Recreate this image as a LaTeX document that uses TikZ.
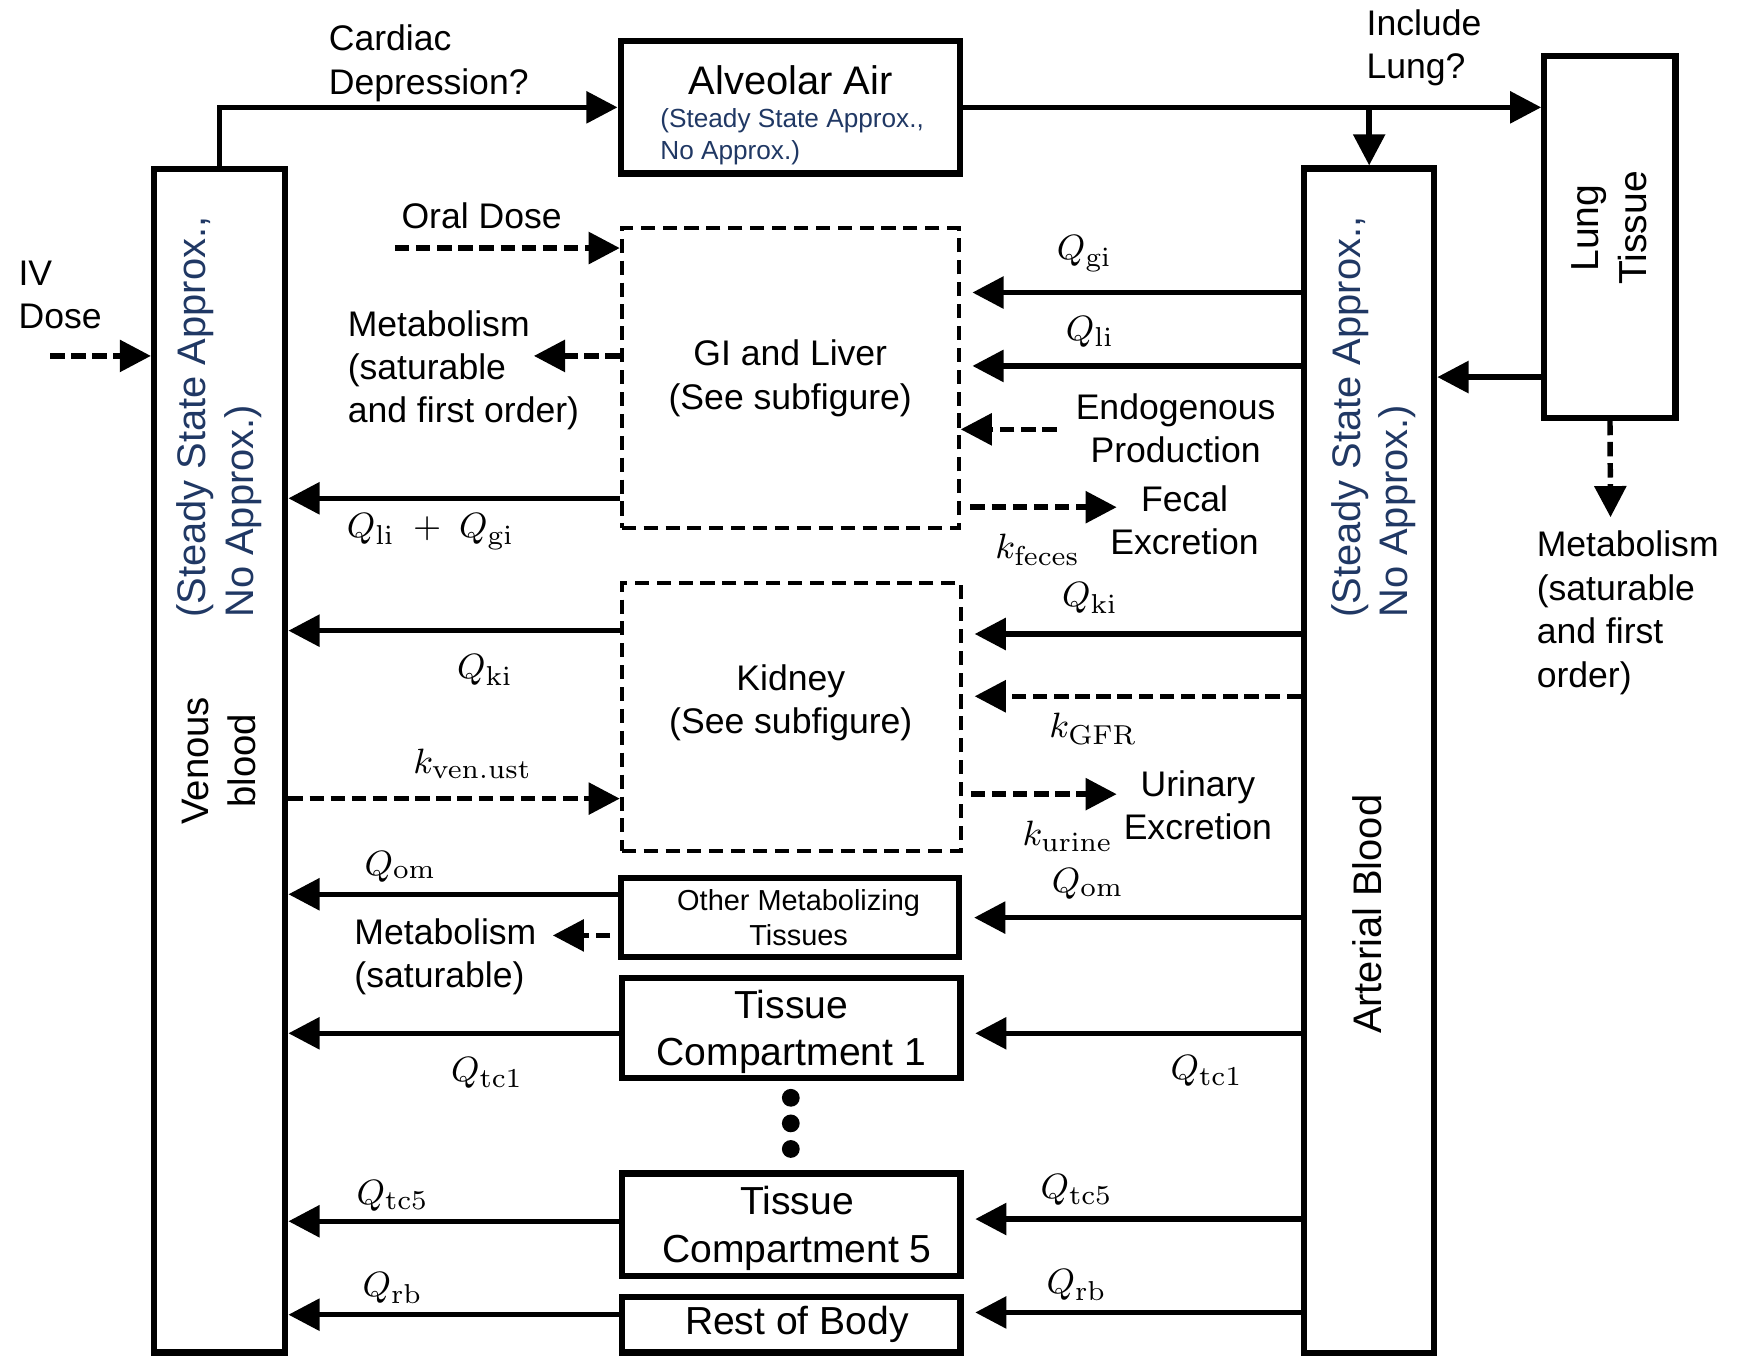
\documentclass[tikz,border=0pt]{standalone}
\usepackage[no-math]{fontspec}
\setmainfont{Liberation Sans}
\usetikzlibrary{arrows.meta}
\definecolor{DarkBlue}{HTML}{203864}
\tikzset{
 box/.style={draw, line width=1.6pt, inner sep=0pt, align=center, font=\fontsize{10}{12.2}\selectfont},
 dashbox/.style={draw, line width=1pt, dash pattern=on 3.6pt off 2pt, inner sep=0pt, align=center, font=\fontsize{9.1}{11.1}\selectfont},
 txt/.style={inner sep=0pt, align=left, font=\fontsize{9.1}{11.1}\selectfont},
 ctxt/.style={txt, align=center},
 side/.style={inner sep=0pt, rotate=90, align=left, text=DarkBlue, font=\fontsize{10.2}{12.2}\selectfont},
 sidetxt/.style={side, align=center, text=black, font=\fontsize{10}{12.2}\selectfont},
 note/.style={inner sep=0pt, align=left, text=DarkBlue, font=\fontsize{6.7}{8.2}\selectfont},
 rate/.style={inner sep=0pt, font=\fontsize{9.4}{11}\selectfont},
 flow/.style={-{Triangle[length=0.28cm,width=0.28cm]}, line width=1.4pt},
 dflow/.style={flow, dash pattern=on 0.13cm off 0.06cm},
 gap/.style={shorten >=3pt}
}
\begin{document}
\begin{tikzpicture}[x=0.1mm,y=-0.1mm]
\useasboundingbox (0,0) rectangle (1568,1219);
\node[box,minimum width=1.18cm,minimum height=10.64cm] (venous) at (197.5,684) {};
\node[box,minimum width=1.17cm,minimum height=10.65cm] (arterial) at (1231,684) {};
\node[box,minimum width=3.05cm,minimum height=1.19cm] (alveolar) at (710.5,96.5) {};
\node[box,minimum width=1.18cm,minimum height=3.25cm] (lung) at (1447.5,213) {};
\node[dashbox,minimum width=3.03cm,minimum height=2.7cm] (gi) at (710.5,340) {GI and Liver\\(See subfigure)};
\node[dashbox,minimum width=3.05cm,minimum height=2.41cm] (kidney) at (711.5,644.5) {};
\node[box,minimum width=3.04cm,minimum height=0.71cm,font=\fontsize{7.4}{9.1}\selectfont] (other) at (710.5,825) {\hspace*{0.15cm}Other Metabolizing\\\hspace*{0.15cm}Tissues};
\node[box,minimum width=3.04cm,minimum height=0.9cm,text depth=0pt] (tc1) at (711.5,924) {Tissue\\Compartment 1};
\node[box,minimum width=3.04cm,minimum height=0.92cm,text depth=0pt] (tc5) at (711.5,1101) {\hspace*{0.1cm}Tissue\\\hspace*{0.1cm}Compartment 5};
\node[box,minimum width=3.04cm,minimum height=0.5cm] (rb) at (711.5,1191) {\hspace*{0.1cm}Rest of Body};

\node[inner sep=0pt,font=\fontsize{10.2}{12.2}\selectfont] (alvtxt) at (711,72) {Alveolar Air};
\node[note,anchor=west] (alvnote) at (593,123) {(Steady State Approx.,\\No Approx.)};
\node[side] (venousnote) at (197,375) {(Steady State Approx.,\\No Approx.)};
\node[sidetxt,font=\fontsize{9.8}{12.2}\selectfont] (venoustxt) at (197,684) {Venous\\blood};
\node[side] (arterialnote) at (1235,375) {(Steady State Approx.,\\No Approx.)};
\node[sidetxt,font=\fontsize{10.2}{12.2}\selectfont] (arterialtxt) at (1229,822) {Arterial Blood};
\node[sidetxt] (lungtxt) at (1447,205) {Lung\\Tissue};
\node[ctxt] (kidneytxt) at (711,632) {Kidney\\(See subfigure)};

\node[txt,anchor=west] (cardiac) at (295,57) {Cardiac\\Depression?};
\node[txt,anchor=west] (include) at (1228,43) {Include\\Lung?};
\node[txt,anchor=west] (ivdose) at (16,265) {IV\\Dose};
\node[txt] (oraldose) at (433,194) {Oral Dose};
\node[txt,anchor=west] (gimetab) at (312,333) {Metabolism\\(saturable\\and first order)};
\node[txt,anchor=west] (lungmetab) at (1381,551) {Metabolism\\(saturable\\and first\\order)};
\node[ctxt] (endo) at (1057,385) {Endogenous\\Production};
\node[ctxt] (fecal) at (1065,468) {Fecal\\Excretion};
\node[ctxt] (urinary) at (1077,724) {Urinary\\Excretion};
\node[txt,anchor=west] (ommetab) at (318,860) {Metabolism\\(saturable)};

\coordinate (ivstart) at (45,320);
\coordinate (oralstart) at (355,223);
\coordinate (gimetabend) at (480,320);
\coordinate (lungmetabend) at (1448,465);
\coordinate (endostart) at (950,386);
\coordinate (fecalend) at (1004,456);
\coordinate (urineend) at (1004,714);
\coordinate (ommetabend) at (497,841);

\draw[flow] (venous.north) |- (alveolar.west);
\draw[flow] (alveolar.east) -- (lung.west |- alveolar.east);
\draw[flow] (arterial.north |- alveolar.east) -- (arterial.north);
\draw[flow] (lung.west |- 0,339) -- (arterial.east |- 0,339);
\draw[dflow] (lung.south) -- (lungmetabend);
\draw[dflow] (ivstart) -- (venous.west |- ivstart);
\draw[dflow] (oralstart) -- (gi.west |- oralstart);
\draw[dflow] (gi.west |- gimetabend) -- (gimetabend);
\draw[flow] (gi.west |- 0,448) -- (venous.east |- 0,448);
\draw[flow,gap] (arterial.west |- 0,263) -- (gi.east |- 0,263);
\draw[flow,gap] (arterial.west |- 0,329) -- (gi.east |- 0,329);
\draw[dflow] (endostart) -- (gi.east |- endostart);
\draw[dflow,shorten <=2.5pt] (gi.east |- fecalend) -- (fecalend);
\draw[flow] (kidney.west |- 0,567) -- (venous.east |- 0,567);
\draw[dflow] (venous.east |- 0,718) -- (kidney.west |- 0,718);
\draw[flow,gap] (arterial.west |- 0,570) -- (kidney.east |- 0,570);
\draw[dflow,gap] (arterial.west |- 0,626) -- (kidney.east |- 0,626);
\draw[dflow,shorten <=2pt] (kidney.east |- urineend) -- (urineend);
\draw[flow] (other.west |- 0,804) -- (venous.east |- 0,804);
\draw[dflow,shorten <=2pt] (other.west |- ommetabend) -- (ommetabend);
\draw[flow,gap] (arterial.west |- 0,825) -- (other.east |- 0,825);
\draw[flow] (tc1.west |- 0,929) -- (venous.east |- 0,929);
\draw[flow,gap] (arterial.west |- 0,929) -- (tc1.east |- 0,929);
\draw[flow] (tc5.west |- 0,1098) -- (venous.east |- 0,1098);
\draw[flow,gap] (arterial.west |- 0,1096) -- (tc5.east |- 0,1096);
\draw[flow] (rb.west |- 0,1182) -- (venous.east |- 0,1182);
\draw[flow,gap] (arterial.west |- 0,1180) -- (rb.east |- 0,1180);

\foreach \y in {987,1010,1033} \fill (711,\y) circle (0.08cm);

\node[rate] (qgiR) at (975,228) {$Q_{\mathrm{gi}}$};
\node[rate] (qliR) at (980,298) {$Q_{\mathrm{li}}$};
\node[rate] (qligiL) at (387,478) {$Q_{\mathrm{li}}\;+\;Q_{\mathrm{gi}}$};
\node[rate] (kfeces) at (933,494) {$k_{\mathrm{feces}}$};
\node[rate] (qkiR) at (980,538) {$Q_{\mathrm{ki}}$};
\node[rate] (qkiL) at (436,602) {$Q_{\mathrm{ki}}$};
\node[rate] (kgfr) at (983,655) {$k_{\mathrm{GFR}}$};
\node[rate] (kvenust) at (425,687) {$k_{\mathrm{ven.ust}}$};
\node[rate] (kurine) at (960,752) {$k_{\mathrm{urine}}$};
\node[rate] (qomL) at (360,779) {$Q_{\mathrm{om}}$};
\node[rate] (qomR) at (978,795) {$Q_{\mathrm{om}}$};
\node[rate] (qtcaL) at (438,965) {$Q_{\mathrm{tc1}}$};
\node[rate] (qtcaR) at (1085,963) {$Q_{\mathrm{tc1}}$};
\node[rate] (qtceL) at (353,1075) {$Q_{\mathrm{tc5}}$};
\node[rate] (qtceR) at (968,1070) {$Q_{\mathrm{tc5}}$};
\node[rate] (qrbL) at (353,1158) {$Q_{\mathrm{rb}}$};
\node[rate] (qrbR) at (968,1155) {$Q_{\mathrm{rb}}$};
\end{tikzpicture}
\end{document}
